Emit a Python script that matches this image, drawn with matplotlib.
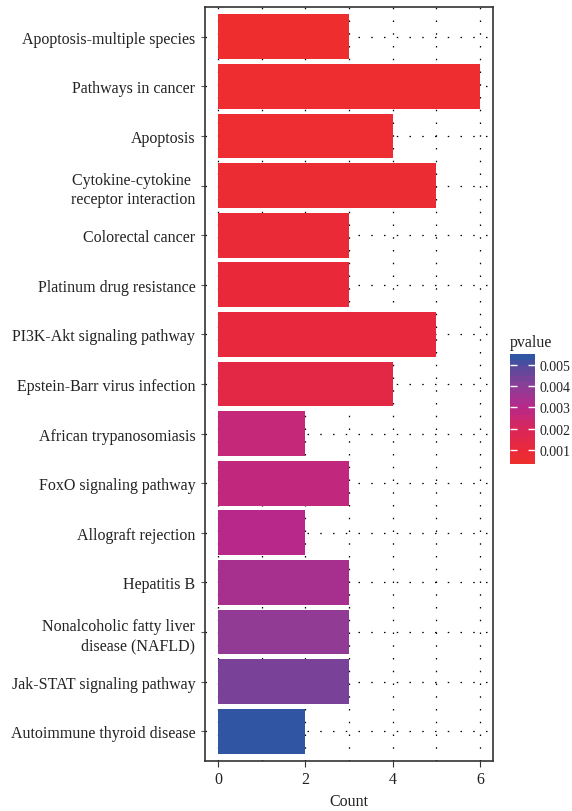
import matplotlib
matplotlib.use("Agg")
import matplotlib.pyplot as plt
from matplotlib.colors import LinearSegmentedColormap, Normalize
from matplotlib.cm import ScalarMappable
import numpy as np

plt.rcParams['font.family'] = ['Liberation Serif', 'DejaVu Serif']

pathways = [
    "Apoptosis-multiple species",
    "Pathways in cancer",
    "Apoptosis",
    "Cytokine-cytokine \nreceptor interaction",
    "Colorectal cancer",
    "Platinum drug resistance",
    "PI3K-Akt signaling pathway",
    "Epstein-Barr virus infection",
    "African trypanosomiasis",
    "FoxO signaling pathway",
    "Allograft rejection",
    "Hepatitis B",
    "Nonalcoholic fatty liver\ndisease (NAFLD)",
    "Jak-STAT signaling pathway",
    "Autoimmune thyroid disease",
]
counts = [3, 6, 4, 5, 3, 3, 5, 4, 2, 3, 2, 3, 3, 3, 2]
pvalues = [0.00034, 0.00045, 0.0005, 0.0006, 0.0008, 0.0009, 0.001, 0.0013,
           0.0026, 0.0027, 0.0030, 0.0034, 0.0039, 0.0044, 0.0055]
cbar_ticks = [0.001, 0.002, 0.003, 0.004, 0.005]

pmin, pmax = min(pvalues), max(pvalues)
norm = Normalize(vmin=pmin, vmax=pmax)
stops = [(pmin, "#EE2E2E"), (0.001, "#E8283C"), (0.002, "#D8275C"),
         (0.003, "#B8288A"), (0.004, "#8E3D96"), (0.005, "#5A4A9C"),
         (pmax, "#2F55A3")]
cmap = LinearSegmentedColormap.from_list(
    "pv", [((p - pmin) / (pmax - pmin), c) for p, c in stops])

fig = plt.figure(figsize=(5.72, 8.12), dpi=100)
ax = fig.add_axes([205 / 572, 1 - 762 / 812, 288 / 572, 754 / 812])

n = len(pathways)
ypos = np.arange(n)[::-1]
dot = (0, (1.2, 9))
for x in range(0, 7):
    ax.axvline(x, color="black", lw=0.9, ls=dot, zorder=0)
for y in ypos:
    ax.axhline(y, color="black", lw=0.9, ls=dot, zorder=0)

ax.barh(ypos, counts, height=0.9, color=cmap(norm(pvalues)), zorder=2)

ax.set_xlim(-0.3, 6.3)
ax.set_ylim(-0.6, n - 0.4)
ax.set_yticks(ypos)
ax.set_yticklabels(pathways, fontsize=11.5, color="#222222", linespacing=1.3)
ax.set_xticks([0, 2, 4, 6])
ax.tick_params(axis="x", labelsize=11.5, length=4, color="#333333", labelcolor="#222222")
ax.tick_params(axis="y", length=3, color="#555555", pad=4)
ax.set_xlabel("Count", fontsize=11.5, color="#222222", labelpad=4)
for s in ax.spines.values():
    s.set_color("#333333")
    s.set_linewidth(1.2)

cax = fig.add_axes([510 / 572, 1 - 465 / 812, 25 / 572, 110 / 812])
sm = ScalarMappable(norm=norm, cmap=cmap.resampled(20))
cb = fig.colorbar(sm, cax=cax, ticks=cbar_ticks)
cb.outline.set_visible(False)
cb.ax.set_yticklabels([f"{t:.3f}" for t in cbar_ticks])
cax.tick_params(direction="in", color="white", left=True, right=True,
                length=5, width=1, labelsize=10, pad=3, labelcolor="#222222")
cax.set_title("pvalue", fontsize=11.5, loc="left", pad=6, color="#222222")

fig.savefig("out.png", dpi=100)
